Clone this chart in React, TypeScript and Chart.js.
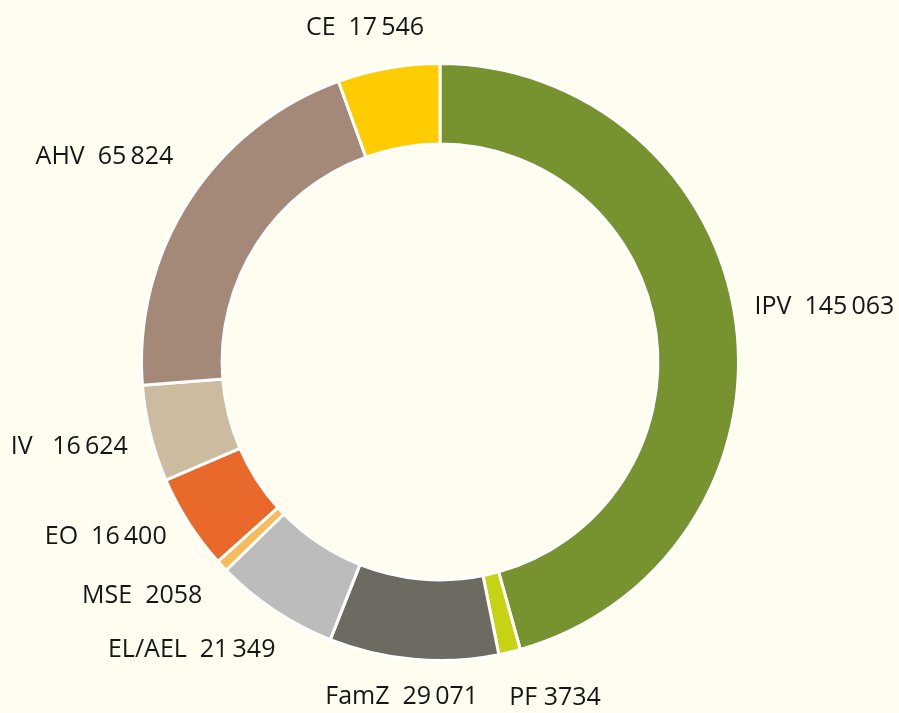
import React, { useEffect, useRef } from "react";
import { Chart, registerables } from "chart.js";

Chart.register(...registerables);

const categories = ["IPV", "PF", "FamZ", "EL/AEL", "MSE", "EO", "IV", "AHV", "CE"];
const values = [145063, 3734, 29071, 21349, 2058, 16400, 16624, 65824, 17546];
const valueLabels = ["145\u2009063", "3734", "29\u2009071", "21\u2009349", "2058", "16\u2009400", "16\u2009624", "65\u2009824", "17\u2009546"];
const labelGaps = ["  ", " ", "  ", "  ", "  ", "  ", "   ", "  ", "  "];
const colors = ["#77932F", "#C6D315", "#6D6A62", "#BCBCBA", "#F8BC5C", "#E8692A", "#CBBCA0", "#A48878", "#FECC00"];
const labelNudges: [number, number][] = [
  [-1, -5], [-5, 33], [-10, 25], [12, 30], [-5, 23], [-5, 10], [-3, 15], [1, -25], [-20, -13],
];

const BG = "#FEFDF0";

const labelPlugin = {
  id: "outerLabels",
  afterDatasetsDraw(chart: any) {
    const ctx = chart.ctx;
    const meta = chart.getDatasetMeta(0);
    ctx.save();
    ctx.font = "25px 'Open Sans', 'Noto Sans', sans-serif";
    ctx.fillStyle = "#161616";
    ctx.textBaseline = "alphabetic";
    meta.data.forEach((arc: any, i: number) => {
      const mid = (arc.startAngle + arc.endAngle) / 2;
      const R = arc.outerRadius + 20;
      const cx = arc.x + Math.cos(mid) * R;
      const cy = arc.y + Math.sin(mid) * R;
      const c = Math.cos(mid);
      let align: CanvasTextAlign = "center";
      if (c > 0.2) align = "left";
      else if (c < -0.2) align = "right";
      ctx.textAlign = align;
      const text = categories[i] + labelGaps[i] + valueLabels[i];
      ctx.fillText(text, cx + labelNudges[i][0], cy + labelNudges[i][1]);
    });
    ctx.restore();
  },
};

export default function App() {
  const ref = useRef<HTMLCanvasElement>(null);
  useEffect(() => {
    if (!ref.current) return;
    const chart = new Chart(ref.current, {
      type: "doughnut",
      data: {
        labels: categories,
        datasets: [
          {
            data: values,
            backgroundColor: colors,
            borderColor: "#FFFFFF",
            borderWidth: 3,
          },
        ],
      },
      options: {
        responsive: false,
        animation: false,
        cutout: "73%",
        layout: { padding: { left: 140, right: 159, top: 62, bottom: 51 } },
        plugins: {
          legend: { display: false },
          tooltip: { enabled: false },
        },
      },
      plugins: [labelPlugin],
    });
    return () => chart.destroy();
  }, []);
  return (
    <div style={{ position: "fixed", left: 0, top: 0, width: 899, height: 713, background: BG }}>
      <canvas ref={ref} width={899} height={713} style={{ width: 899, height: 713, display: "block" }} />
    </div>
  );
}
